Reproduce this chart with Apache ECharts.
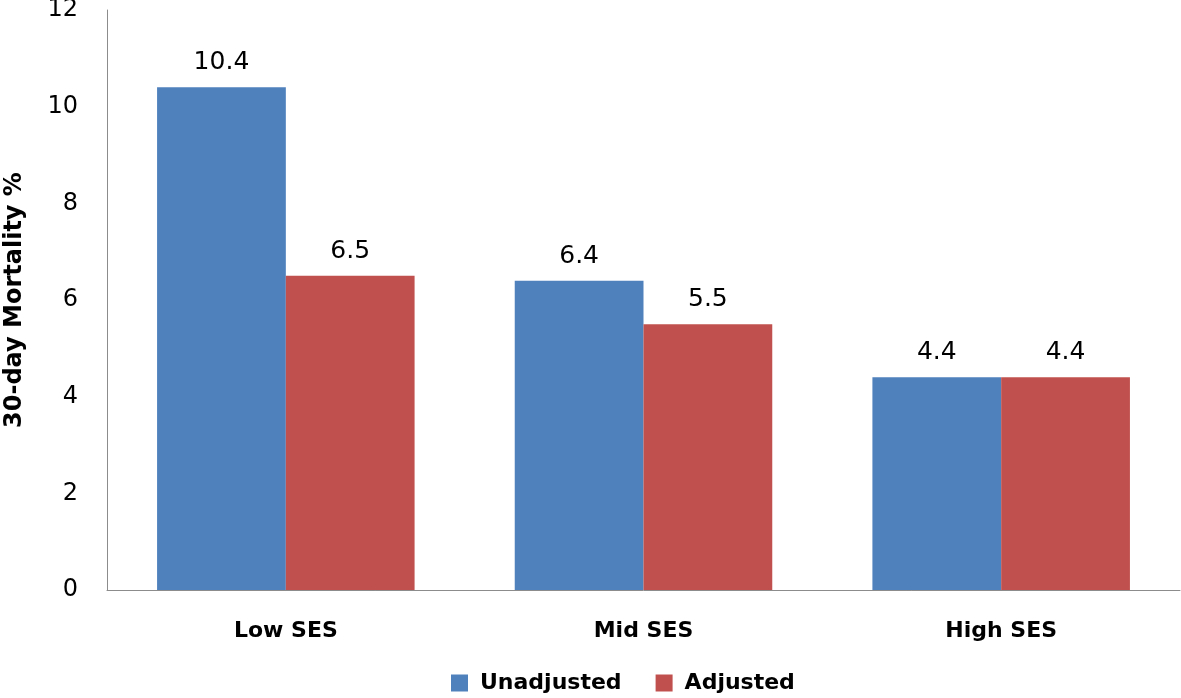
<!DOCTYPE html>
<html><head><meta charset="utf-8">
<script src="https://cdn.jsdelivr.net/npm/echarts@6/dist/echarts.min.js"></script>
<style>html,body{margin:0;padding:0;background:#fff}#c{width:1181px;height:698px}</style>
</head><body><div id="c"></div>
<script>
const categories = ['Low SES', 'Mid SES', 'High SES'];
const unadjusted = [10.4, 6.4, 4.4];
const adjusted = [6.5, 5.5, 4.4];
const yTicks = [0, 2, 4, 6, 8, 10, 12];
const seriesNames = ['Unadjusted', 'Adjusted'];

const font = 'DejaVu Sans';
const chart = echarts.init(document.getElementById('c'));
chart.setOption({
  animation: false,
  textStyle: { fontFamily: font },
  grid: { left: 107, right: 1, top: 10, bottom: 108, containLabel: false, outerBoundsMode: 'none' },
  legend: {
    top: 667, left: 446, itemWidth: 17, itemHeight: 17, itemGap: 34,
    icon: 'rect',
    textStyle: { fontSize: 22, fontWeight: 'bold', color: '#000', fontFamily: font, padding: [0, 0, 0, 7] },
    data: seriesNames
  },
  xAxis: {
    type: 'category', data: categories,
    axisLine: { lineStyle: { color: '#8c8c8c', width: 1 } },
    axisTick: { show: false },
    axisLabel: { color: '#000', fontSize: 22, fontWeight: 'bold', margin: 30, fontFamily: font }
  },
  yAxis: {
    type: 'value', min: yTicks[0], max: yTicks[yTicks.length - 1], interval: 2,
    name: '30-day Mortality %', nameLocation: 'middle', nameGap: 80, nameRotate: 90,
    nameTextStyle: { fontSize: 24, fontWeight: 'bold', color: '#000', fontFamily: font },
    axisLine: { show: true, lineStyle: { color: '#8c8c8c', width: 1 } },
    axisTick: { show: false },
    splitLine: { show: false },
    axisLabel: { color: '#000', fontSize: 24, margin: 29, fontFamily: font }
  },
  series: [
    { name: seriesNames[0], type: 'bar', data: unadjusted, barWidth: '36%', barGap: '0%',
      itemStyle: { color: '#4F81BD' },
      label: { show: true, position: 'top', distance: 12, color: '#000', fontSize: 25, fontFamily: font } },
    { name: seriesNames[1], type: 'bar', data: adjusted, barWidth: '36%', barGap: '0%',
      itemStyle: { color: '#C0504D' },
      label: { show: true, position: 'top', distance: 12, color: '#000', fontSize: 25, fontFamily: font } }
  ]
});
</script></body></html>
